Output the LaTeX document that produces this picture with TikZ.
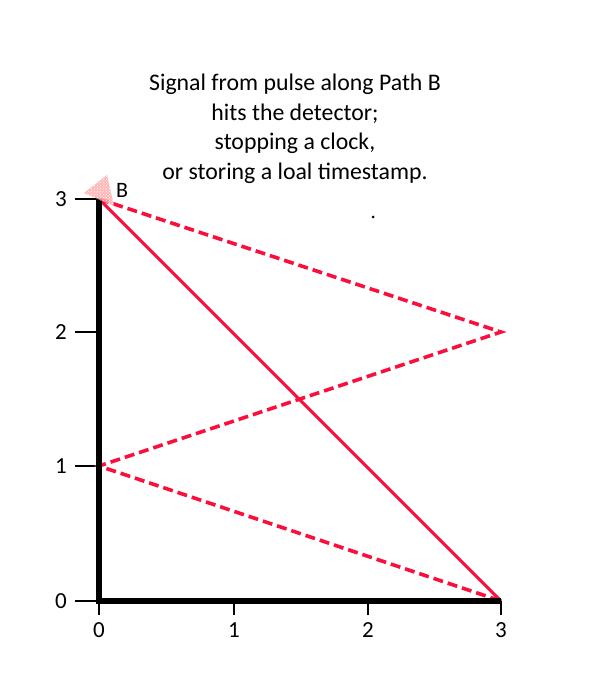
\documentclass[tikz,border=0pt]{standalone}
\usepackage{fontspec}
\setmainfont{Carlito}
\usetikzlibrary{patterns}
\definecolor{pathred}{RGB}{250,15,60}
\begin{document}
\begin{tikzpicture}[x=1pt,y=-1pt,
  axis/.style={line width=5.5pt,black},
  tick/.style={line width=2.2pt,black},
  ticklabel/.style={font=\fontsize{23}{25}\selectfont,inner sep=0pt},
  solidpath/.style={pathred,line width=3pt},
  dashpath/.style={pathred,line width=3.6pt,dash pattern=on 10pt off 5pt}]
\useasboundingbox (0,0) rectangle (600,700);
% coordinates
\coordinate (O) at (99,601);
\coordinate (Y1) at (99,466);
\coordinate (Y2) at (99,332);
\coordinate (Y3) at (99,199);
\coordinate (X1) at (234,601);
\coordinate (X2) at (368,601);
\coordinate (X3) at (501,601);
\coordinate (R2) at (501,332);
% ticks
\foreach \c/\l in {O/0,Y1/1,Y2/2,Y3/3}{
  \draw[tick] (\c) -- ++(-24,0) coordinate (t\c);
  \node[ticklabel,anchor=east] (ly\l) at ([xshift=-8pt]t\c) {\l};
}
\foreach \c/\l in {O/0,X1/1,X2/2,X3/3}{
  \draw[tick] (\c) -- ++(0,14) coordinate (s\c);
  \node[ticklabel,anchor=north] (lx\l) at ([yshift=-7pt]s\c) {\l};
}
% paths
\draw[solidpath] (Y3) -- (X3);
\draw[dashpath] (Y3) -- (R2) -- (Y1) -- (X3);
% axes
\draw[axis] (Y3) -- (O) -- (X3);
% detector cone
\fill[red!35,opacity=0.8] (84,193) -- (107,175) -- (114,206) -- cycle;
\fill[pattern=crosshatch dots,pattern color=white] (84,193) -- (107,175) -- (114,206) -- cycle;
\node[font=\fontsize{22}{24}\selectfont,inner sep=0pt] (B) at (122,190) {B};
% title
\node[font=\fontsize{23.8}{29.5}\selectfont,align=center,inner sep=0pt,anchor=north] (title) at (295,74)
 {Signal from pulse along Path B\\hits the detector;\\stopping a clock,\\or storing a loal timestamp.};
\fill (373,217) circle (1.5pt);
\end{tikzpicture}
\end{document}
